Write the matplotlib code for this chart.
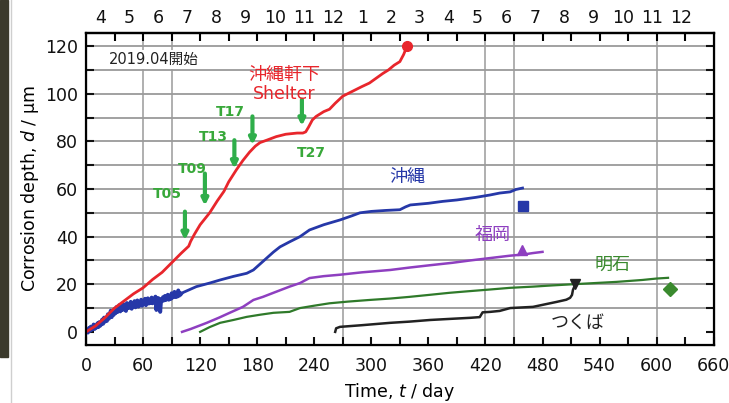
import numpy as np
import matplotlib
matplotlib.use("Agg")
import matplotlib.pyplot as plt
from matplotlib.patches import Rectangle

plt.rcParams['font.family'] = ['DejaVu Sans', 'Noto Sans CJK JP']
plt.rcParams['mathtext.fontset'] = 'dejavusans'

# Okinawa shelter (red)
red_t = [0, 10, 20, 30, 40, 50, 60, 70, 80, 90, 100, 108, 110, 114, 120, 126, 130, 138,
         145, 150, 158, 165, 172, 178, 183, 190, 200, 210, 222, 228, 231, 234, 238, 242,
         250, 256, 262, 270, 280, 290, 298, 305, 312, 318, 324, 330, 334, 337]
red_d = [0, 2.5, 6, 10, 13, 16, 18.5, 22, 25, 29, 33, 36, 38, 41, 45, 48, 50, 55,
         59, 63, 68, 72, 75.5, 78, 79.5, 80.5, 82, 83, 83.5, 83.5, 84, 86, 89, 90.5,
         92.5, 93.5, 96, 99, 101, 103, 104.5, 106.5, 108.5, 110, 112, 113.5, 116.5, 119.5]

# Okinawa (blue): daily readings for the first 100 days, then smoothed
blue_early = [0.0, 0.8, -0.3, 1.6, 0.4, 2.2, 0.9, 1.4, 3.1, 1.2, 2.4,
              1.8, 3.6, 2.0, 4.1, 2.6, 3.3, 5.2, 3.4, 6.0, 4.3,
              5.8, 4.6, 7.4, 5.5, 6.8, 8.9, 6.2, 8.4, 7.1, 9.6,
              7.8, 10.4, 8.3, 9.1, 11.2, 8.6, 10.7, 9.2, 11.8, 9.4,
              10.9, 8.8, 12.1, 9.9, 11.3, 10.2, 12.6, 9.7, 11.4, 10.8,
              12.9, 10.3, 11.7, 13.2, 10.6, 12.4, 11.1, 13.5, 11.0, 12.8,
              11.6, 13.9, 11.2, 12.5, 14.1, 11.9, 13.0, 12.2, 14.4, 12.0,
              13.6, 12.7, 14.8, 9.2, 13.1, 14.2, 12.6, 8.4, 13.8, 12.9,
              14.6, 13.2, 15.1, 13.4, 14.0, 15.6, 13.5, 14.9, 13.8, 16.2,
              14.4, 15.3, 16.8, 14.6, 15.9, 14.8, 17.4, 15.2, 16.3, 16.0]
blue_t_late = [99, 116, 130, 141, 155, 169, 176, 183, 190, 197, 204, 214, 225, 235, 250,
               267, 280, 288, 300, 315, 330, 336, 341, 360, 375, 390, 410, 425, 435,
               446, 452, 459]
blue_d_late = [16.0, 19, 20.5, 21.8, 23.3, 24.6, 26, 28.5, 31, 33.5, 35.7, 37.8, 40, 42.8, 45,
               47, 48.8, 50, 50.6, 51, 51.3, 52.5, 53.3, 54, 54.8, 55.4, 56.5, 57.5, 58.3,
               58.8, 59.8, 60.4]

# Fukuoka (purple)
purple_t = [101, 110, 127, 140, 151, 165, 176, 186, 197, 214, 225, 235, 250, 267, 290,
            320, 340, 362, 385, 404, 425, 446, 460, 470, 480]
purple_d = [0, 1.2, 3.8, 6, 8, 10.5, 13.4, 14.7, 16.4, 19, 20.5, 22.6, 23.4, 24, 25,
            26, 27, 28, 29, 30, 31, 32, 32.5, 33.1, 33.6]

# Akashi (green)
green_t = [120, 130, 141, 155, 169, 183, 197, 214, 225, 240, 256, 275, 298, 320, 340,
           360, 382, 400, 425, 446, 470, 490, 512, 535, 558, 585, 600, 612]
green_d = [0, 2, 3.8, 5, 6.3, 7.2, 8, 8.4, 10, 11, 12, 12.7, 13.4, 14, 14.7,
           15.5, 16.4, 17.0, 17.8, 18.5, 19.0, 19.5, 20.0, 20.5, 21, 21.8, 22.4, 22.7]

# Tsukuba (black)
black_t = [262, 263, 267, 290, 320, 340, 362, 385, 404, 414, 417, 425, 435, 446, 470,
           495, 505, 509, 511, 512, 514]
black_d = [0, 1.5, 2.1, 2.8, 3.8, 4.3, 5, 5.5, 5.9, 6.2, 8.2, 8.4, 8.8, 10, 10.5,
           12.6, 13.5, 14.3, 15.5, 17.6, 19.5]

# single reference points
ref_pts = [(337, 120, 'o', '#e8262c'), (459, 52.9, 's', '#2638a8'),
           (458, 34.4, '^', '#8e3fc0'), (614, 18, 'D', '#3a8a2e'),
           (514, 20, 'v', '#222222')]

# typhoon markers: name, label x, label y, arrow x, arrow top, arrow bottom
typhoons = [('T05', 86, 58, 104, 50.5, 38.5),
            ('T09', 112, 68.5, 125, 66.5, 53),
            ('T13', 134, 82, 156, 80.5, 68.5),
            ('T17', 152, 92.5, 175, 90.5, 78.5),
            ('T27', 237, 75, 227, 97.5, 86.5)]

months = [4, 5, 6, 7, 8, 9, 10, 11, 12, 1, 2, 3, 4, 5, 6, 7, 8, 9, 10, 11, 12]
month_len = [30, 31, 30, 31, 31, 30, 31, 30, 31, 31, 29, 31, 30, 31, 30, 31, 31, 30, 31, 30, 31]
vgrid_days = [60, 90, 270, 420, 450, 600]

fig = plt.figure(figsize=(7.29, 4.03), dpi=100)
ax = fig.add_axes([0.118, 0.144, 0.861, 0.774])

# scanned page edge on the left
fig.patches.append(Rectangle((0, 0.115), 0.011, 0.885, transform=fig.transFigure,
                             color='#3b3a2c', zorder=0))
fig.lines.append(plt.Line2D([0.015, 0.015], [0, 1], transform=fig.transFigure,
                            color='#cfcfcf', lw=1))

for yv in range(10, 121, 10):
    ax.axhline(yv, color='#9a9a9a', lw=1.3, zorder=1)
for xv in vgrid_days:
    ax.axvline(xv, color='#9a9a9a', lw=1.1, zorder=1)

ax.plot(red_t, red_d, color='#e8262c', lw=2.0, zorder=4)
ax.plot(range(len(blue_early)), blue_early, color='#2638a8', lw=2.8, zorder=3)
ax.plot(blue_t_late, blue_d_late, color='#2638a8', lw=2.0, zorder=3)
ax.plot(purple_t, purple_d, color='#8e3fc0', lw=1.8, zorder=3)
ax.plot(green_t, green_d, color='#2f7a2a', lw=1.6, zorder=3)
ax.plot(black_t, black_d, color='#222222', lw=1.8, zorder=3)

for x, y, m, c in ref_pts:
    ax.plot(x, y, marker=m, color=c, ms=7, ls='none', zorder=5)

for name, lx, ly, axx, ytop, ybot in typhoons:
    ax.annotate('', xy=(axx, ybot), xytext=(axx, ytop),
                arrowprops=dict(arrowstyle='-|>', color='#2fae4a', lw=3.0,
                                mutation_scale=9, shrinkA=0, shrinkB=0), zorder=6)
    ax.text(lx, ly, name, color='#38a83a', fontsize=10, fontweight='bold',
            ha='center', va='center', zorder=6)

ax.text(24, 114.5, '2019.04開始', fontsize=10.5, color='#222222', va='center', ha='left',
        bbox=dict(facecolor='white', edgecolor='none', pad=1.5), zorder=6)
ax.text(208, 108, '沖縄軒下', color='#e8262c', fontsize=13, ha='center', va='center', zorder=6)
ax.text(208, 100, 'Shelter', color='#e8262c', fontsize=12.5, ha='center', va='center', zorder=6)
ax.text(338, 65, '沖縄', color='#2638a8', fontsize=13, ha='center', va='center', zorder=6)
ax.text(428, 40.5, '福岡', color='#8e3fc0', fontsize=13, ha='center', va='center', zorder=6)
ax.text(554, 28, '明石', color='#3a8a2e', fontsize=13, ha='center', va='center', zorder=6)
ax.text(517, 4, 'つくば', color='#222222', fontsize=13, ha='center', va='center', zorder=6)

ax.set_xlim(0, 660)
ax.set_ylim(-5.5, 125.5)
ax.set_xticks(np.arange(0, 661, 60))
ax.set_xticks(np.arange(30, 661, 60), minor=True)
ax.set_yticks(np.arange(0, 121, 20))
ax.set_yticks(np.arange(10, 121, 20), minor=True)
ax.tick_params(which='both', direction='in', length=6, width=1.5, top=False, right=True,
               labelsize=12.5, colors='#111111')
ax.tick_params(axis='x', which='both', pad=9)
ax.tick_params(axis='y', which='both', pad=6)
for sp in ax.spines.values():
    sp.set_linewidth(1.6)
ax.set_xlabel('Time, $t$ / day', fontsize=12.5, labelpad=4)
ax.set_ylabel('Corrosion depth, $d$ / µm', fontsize=12.5, labelpad=3)

# month scale on top
top = ax.twiny()
top.set_xlim(ax.get_xlim())
top.set_xticks(np.arange(30, 660, 30))
top.tick_params(which='major', direction='in', length=6, width=1.5, labelbottom=False,
                labeltop=False)
starts = np.concatenate([[0], np.cumsum(month_len)[:-1]])
centers = starts + np.array(month_len) / 2
top.set_xticks(centers, minor=True)
top.set_xticklabels([str(m) for m in months], minor=True)
top.tick_params(which='minor', length=0, labelsize=12.5, pad=4, colors='#111111')
top.spines['top'].set_linewidth(1.6)

fig.savefig('out.png', dpi=100)
